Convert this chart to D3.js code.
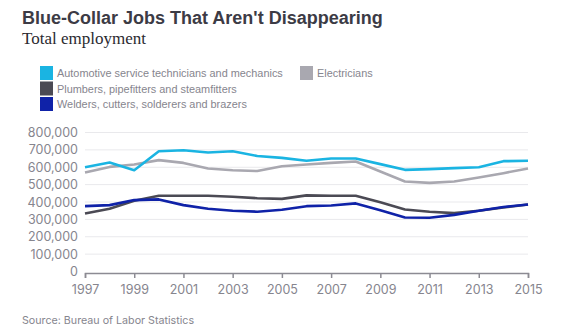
<!DOCTYPE html>
<meta charset="utf-8">
<style>
body { margin: 0; background: #fff; }
text { font-family: Inter, "Liberation Sans", sans-serif; }
.title { font-family: "Liberation Sans", sans-serif; font-weight: 700; font-size: 18px; fill: #3c3b45; }
.subtitle { font-family: "Liberation Serif", serif; font-size: 17px; fill: #2b2a30; }
.legend text { font-family: "Liberation Sans", sans-serif; font-size: 10.9px; fill: #86858e; }
.axis text { font-size: 12.5px; fill: #86858e; }
.source { font-size: 10.7px; fill: #86858e; }
</style>
<body>
<script src="https://cdn.jsdelivr.net/npm/d3@7"></script>
<script>

var years = d3.range(1997, 2016);

var automotive  = [600000, 627000, 583000, 692000, 698000, 685000, 692000, 665000, 654000, 637000,
                   650000, 650000, 618000, 585000, 589000, 595000, 600000, 635000, 637000];
var electricians = [570000, 602000, 616000, 641000, 625000, 593000, 583000, 578000, 606000, 616000,
                   625000, 633000, 576000, 518000, 510000, 518000, 541000, 566000, 593000];
var plumbers    = [334000, 361000, 407000, 436000, 436000, 436000, 430000, 422000, 418000, 438000,
                   436000, 436000, 398000, 357000, 344000, 336000, 350000, 368000, 386000];
var welders     = [376000, 382000, 411000, 415000, 382000, 361000, 350000, 344000, 355000, 376000,
                   380000, 392000, 353000, 311000, 309000, 326000, 350000, 371000, 386000];

var seriesNames = ["Automotive service technicians and mechanics", "Electricians",
                   "Plumbers, pipefitters and steamfitters", "Welders, cutters, solderers and brazers"];
var seriesColors = ["#1ab4e2", "#a9a8b0", "#4b4a54", "#0f22a8"];
var seriesValues = [automotive, electricians, plumbers, welders];

var yTicks = d3.range(0, 800001, 100000);
var xTicks = d3.range(1997, 2016, 2);

var width = 576, height = 330;

var svg = d3.select("body").append("svg")
    .attr("width", width)
    .attr("height", height);

svg.append("text").attr("class", "title")
    .attr("x", 22).attr("y", 24)
    .text("Blue-Collar Jobs That Aren't Disappearing");

svg.append("text").attr("class", "subtitle")
    .attr("x", 22).attr("y", 44)
    .text("Total employment");

// legend: two columns on the first row, then one column
var legendPos = [[40, 66], [300, 66], [40, 81.5], [40, 97]];
var legend = svg.append("g").attr("class", "legend")
  .selectAll("g")
  .data(seriesNames)
  .enter().append("g")
    .attr("transform", function(d, i) { return "translate(" + legendPos[i][0] + "," + legendPos[i][1] + ")"; });

legend.append("rect")
    .attr("width", 13).attr("height", 14)
    .attr("fill", function(d, i) { return seriesColors[i]; });

legend.append("text")
    .attr("x", 17).attr("y", 11)
    .text(function(d) { return d; });

var x = d3.scaleLinear().domain([1997, 2015]).range([85, 528]);
var y = d3.scaleLinear().domain([0, 800000]).range([271.5, 132.5]);

// gridlines
svg.append("g")
  .selectAll("line")
  .data(yTicks.slice(1))
  .enter().append("line")
    .attr("x1", 85).attr("x2", 528)
    .attr("y1", function(d) { return y(d); })
    .attr("y2", function(d) { return y(d); })
    .attr("stroke", "#e9e9ec")
    .attr("stroke-width", 1);

var yAxis = svg.append("g").attr("class", "axis")
    .attr("transform", "translate(80,0)")
    .call(d3.axisLeft(y).tickValues(yTicks).tickSize(0).tickPadding(2).tickFormat(d3.format(",")));
yAxis.select(".domain").remove();

var xAxis = svg.append("g").attr("class", "axis")
    .attr("transform", "translate(0,273)")
    .call(d3.axisBottom(x).tickValues(xTicks).tickSize(5).tickPadding(7).tickFormat(d3.format("d")));
xAxis.select(".domain").attr("stroke", "#8c8b93").attr("stroke-width", 1.5);
xAxis.selectAll(".tick line").attr("stroke", "#8c8b93").attr("stroke-width", 1.5);

var line = d3.line()
    .x(function(d, i) { return x(years[i]); })
    .y(function(d) { return y(d); });

// draw back to front so the cyan and blue sit on top
var order = [1, 2, 0, 3];
svg.append("g")
  .selectAll("path")
  .data(order)
  .enter().append("path")
    .attr("d", function(k) { return line(seriesValues[k]); })
    .attr("fill", "none")
    .attr("stroke", function(k) { return seriesColors[k]; })
    .attr("stroke-width", 2.6)
    .attr("stroke-linejoin", "round");

svg.append("text").attr("class", "source")
    .attr("x", 22).attr("y", 324)
    .text("Source: Bureau of Labor Statistics");

</script>
